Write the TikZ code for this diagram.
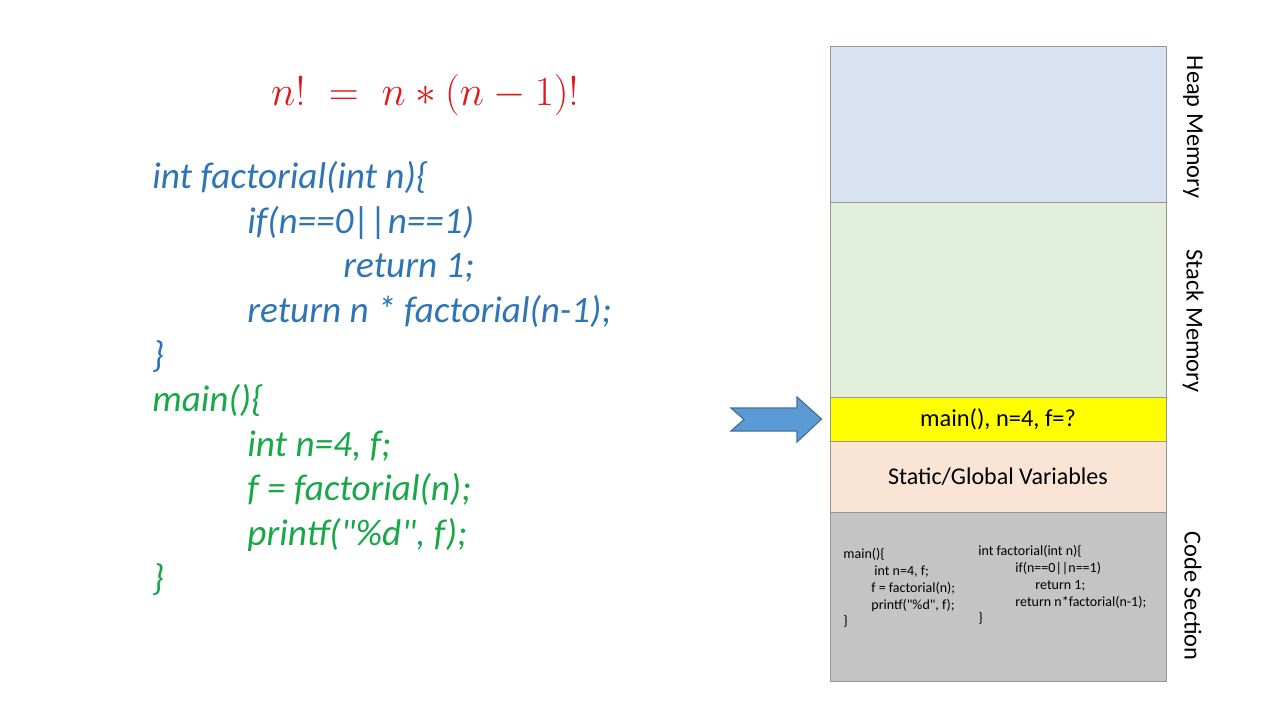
\documentclass[tikz,border=0pt]{standalone}
\usepackage{fontspec}
\setmainfont{Carlito}[Ligatures=TeXOff]
\usepackage{amsmath}
\usetikzlibrary{calc}
\definecolor{codeblue}{RGB}{46,117,182}
\definecolor{codegreen}{RGB}{24,168,72}
\definecolor{formred}{RGB}{226,24,24}
\definecolor{heapc}{RGB}{218,227,243}
\definecolor{stackc}{RGB}{226,239,218}
\definecolor{framec}{RGB}{255,255,0}
\definecolor{staticc}{RGB}{249,228,214}
\definecolor{codesec}{RGB}{196,196,196}
\definecolor{bordc}{RGB}{150,150,150}
\definecolor{arrowc}{RGB}{91,155,213}
\definecolor{arrowb}{RGB}{65,113,156}
\tikzset{
  bluecode/.style={anchor=mid west, inner sep=0pt, text=codeblue, font=\fontsize{18.6}{21}\selectfont\itshape},
  greencode/.style={anchor=mid west, inner sep=0pt, text=codegreen, font=\fontsize{18.6}{21}\selectfont\itshape},
  region/.style={draw=bordc, line width=0.5pt},
  sidelabel/.style={rotate=-90, inner sep=0pt, font=\fontsize{12.2}{14}\selectfont},
  smallcode/.style={anchor=mid west, inner sep=0pt, font=\fontsize{7}{8}\selectfont},
}
\begin{document}
\begin{tikzpicture}[x=0.5pt, y=-0.5pt]
\useasboundingbox[fill=white] (0,0) rectangle (1280,720);

% formula
\node[text=formred, inner sep=0pt, font=\fontsize{21.8}{25}\selectfont] (formula) at (425,95)
  {$\color{formred}n!\;=\;n*(n-1)!$};

% left code
\node[bluecode] (l1) at (152,184) {int factorial(int n)\{};
\node[bluecode] (l2) at (247,228.6) {if(n==0||n==1)};
\node[bluecode] (l3) at (343,273.2) {return 1;};
\node[bluecode] (l4) at (247,317.8) {return n * factorial(n-1);};
\node[bluecode] (l5) at (152,362.4) {\}};
\node[greencode] (m1) at (152,407) {main()\{};
\node[greencode] (m2) at (247,451.6) {int n=4, f;};
\node[greencode] (m3) at (247,496.2) {f = factorial(n);};
\node[greencode] (m4) at (247,540.8) {printf("\%d", f);};
\node[greencode] (m5) at (152,585.4) {\}};

% memory regions
\fill[heapc] (830,46) rectangle (1166,202);
\fill[stackc] (830,202) rectangle (1166,397);
\fill[framec] (830,397) rectangle (1166,441);
\fill[staticc] (830,441) rectangle (1166,512);
\fill[codesec] (830,512) rectangle (1166,681);
\node[region, minimum width=168pt, minimum height=78pt, inner sep=0pt] (heap) at (998,124) {};
\node[region, minimum width=168pt, minimum height=97.5pt, inner sep=0pt] (stack) at (998,299.5) {};
\node[region, minimum width=168pt, minimum height=22pt, inner sep=0pt, font=\fontsize{12.2}{14}\selectfont] (frame) at (998,419) {main(), n=4, f=?};
\node[region, minimum width=168pt, minimum height=35.5pt, inner sep=0pt, font=\fontsize{12}{14}\selectfont] (static) at (998,476.5) {Static/Global Variables};
\node[region, minimum width=168pt, minimum height=84.5pt, inner sep=0pt] (codes) at (998,596.5) {};

% code section text
\node[smallcode] (c1) at (843,554) {main()\{};
\node[smallcode] (c2) at (874,571) {int n=4, f;};
\node[smallcode] (c3) at (871,588) {f = factorial(n);};
\node[smallcode] (c4) at (871,604.5) {printf("\%d", f);};
\node[smallcode] (c5) at (843,621) {\}};
\node[smallcode] (d1) at (978,551) {int factorial(int n)\{};
\node[smallcode] (d2) at (1015,568) {if(n==0||n==1)};
\node[smallcode] (d3) at (1035,585) {return 1;};
\node[smallcode] (d4) at (1015,601.5) {return n*factorial(n-1);};
\node[smallcode] (d5) at (978,618) {\}};

% side labels
\node[sidelabel] (hl) at (1193,127) {Heap Memory};
\node[sidelabel] (sl) at (1193,321) {Stack Memory};
\node[sidelabel] (cl) at (1193,596) {Code Section};

% block arrow pointing at current frame
\coordinate (tip) at (frame.west);
\draw[fill=arrowc, draw=arrowb, line width=0.6pt, line join=miter]
  (731,408) -- (797,408) -- (797,397) -- ($(tip)+(-8,0)$) -- (797,442) -- (797,431)
  -- (731,431) -- (744,419.5) -- cycle;
\end{tikzpicture}
\end{document}
